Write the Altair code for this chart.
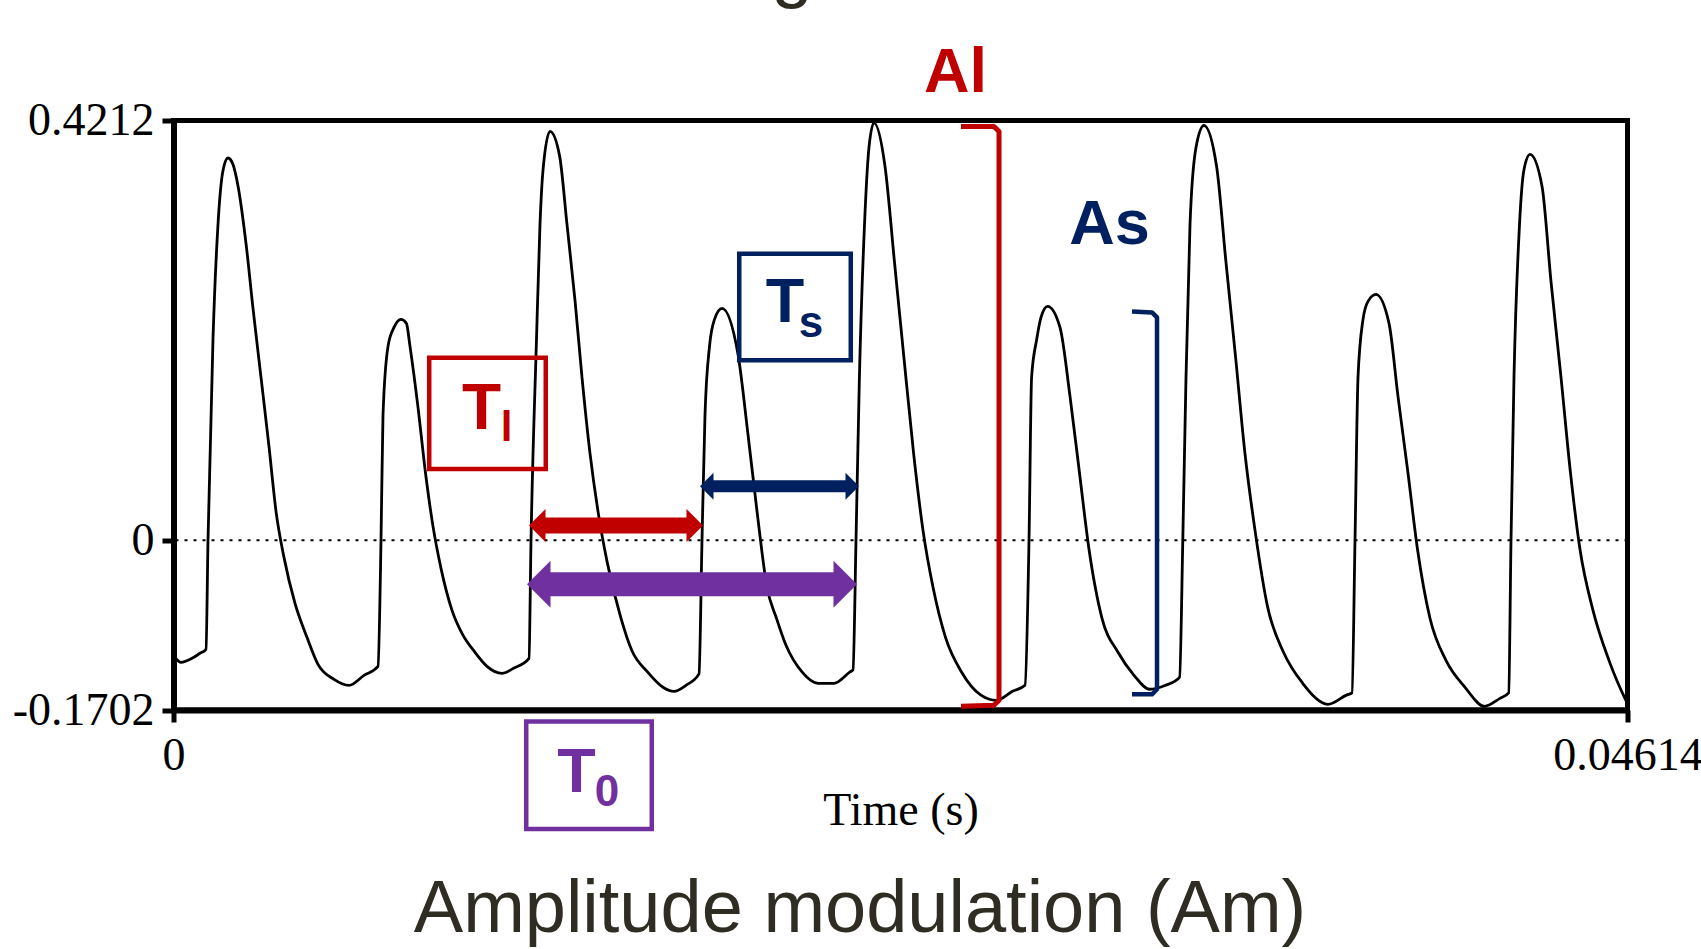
import altair as alt
import pandas as pd

# ---------------- waveform (time in s, amplitude) ----------------
TIME_S = [
    0.000048, 0.000238, 0.000587, 0.000841, 0.001031, 0.001095, 0.001253, 0.001412, 0.001571, 0.001729,
    0.001888, 0.002047, 0.002301, 0.002523, 0.002777, 0.003030, 0.003253, 0.003506, 0.003856, 0.004236,
    0.004585, 0.005093, 0.005569, 0.006045, 0.006489, 0.006585, 0.006648, 0.006807, 0.006997, 0.007219,
    0.007391, 0.007505, 0.007759, 0.007997, 0.008235, 0.008489, 0.008838, 0.009155, 0.009568, 0.009948,
    0.010424, 0.010792, 0.011281, 0.011345, 0.011519, 0.011630, 0.011725, 0.011947, 0.012249, 0.012487,
    0.012741, 0.012963, 0.013217, 0.013471, 0.013757, 0.014201, 0.014549, 0.015041, 0.015533, 0.015882,
    0.016263, 0.016676, 0.016771, 0.016866, 0.017009, 0.017168, 0.017405, 0.017913, 0.018230, 0.018517,
    0.018834, 0.019135, 0.019437, 0.019944, 0.020452, 0.020959, 0.021467, 0.021562, 0.021658, 0.021766,
    0.021928, 0.022070, 0.022229, 0.022579, 0.022880, 0.023181, 0.023486, 0.023784, 0.024102, 0.024498,
    0.025006, 0.025611, 0.026119, 0.026624, 0.027021, 0.027148, 0.027230, 0.027392, 0.027528, 0.027738,
    0.028131, 0.028449, 0.028750, 0.029052, 0.029464, 0.029972, 0.030480, 0.030974, 0.031482, 0.031926,
    0.032028, 0.032130, 0.032257, 0.032447, 0.032700, 0.033101, 0.033399, 0.033707, 0.034002, 0.034320,
    0.034719, 0.035224, 0.035833, 0.036636, 0.037238, 0.037397, 0.037493, 0.037588, 0.037747, 0.037905,
    0.038159, 0.038572, 0.038857, 0.039174, 0.039476, 0.039872, 0.040380, 0.040984, 0.041599, 0.042094,
    0.042370, 0.042443, 0.042538, 0.042713, 0.042856, 0.043046, 0.043426, 0.043712, 0.044030, 0.044331,
    0.044632, 0.045045, 0.045552, 0.046060, 0.046124,
]
AMPLITUDE = [
    -0.1174, -0.1224, -0.1184, -0.1133, -0.1093, 0.0000, 0.2016, 0.3169, 0.3711, 0.3836,
    0.3771, 0.3556, 0.2979, 0.2327, 0.1635, 0.0943, 0.0291, -0.0171, -0.0632, -0.0973,
    -0.1244, -0.1394, -0.1454, -0.1354, -0.1264, 0.0000, 0.1254, 0.1946, 0.2136, 0.2217,
    0.2177, 0.1946, 0.1334, 0.0676, 0.0140, -0.0281, -0.0702, -0.0933, -0.1123, -0.1264,
    -0.1334, -0.1284, -0.1184, 0.0000, 0.2016, 0.3169, 0.3711, 0.4102, 0.3862, 0.3169,
    0.2407, 0.1635, 0.0873, 0.0291, -0.0211, -0.0782, -0.1108, -0.1320, -0.1474, -0.1515,
    -0.1454, -0.1339, 0.0000, 0.1254, 0.1946, 0.2217, 0.2327, 0.1866, 0.1063, 0.0291,
    -0.0471, -0.0782, -0.1053, -0.1320, -0.1434, -0.1434, -0.1320, -0.1300, 0.0000, 0.1635,
    0.3169, 0.3942, 0.4189, 0.3751, 0.2788, 0.1825, 0.0873, 0.0100, -0.0471, -0.0973,
    -0.1320, -0.1550, -0.1605, -0.1515, -0.1454, 0.0000, 0.1635, 0.2016, 0.2237, 0.2347,
    0.2136, 0.1444, 0.0676, -0.0090, -0.0782, -0.1123, -0.1354, -0.1494, -0.1454, -0.1374,
    0.0000, 0.1635, 0.3169, 0.3942, 0.4162, 0.3751, 0.2788, 0.1825, 0.0869, 0.0100,
    -0.0667, -0.1123, -0.1434, -0.1645, -0.1550, -0.1531, 0.0000, 0.1635, 0.2217, 0.2397,
    0.2467, 0.2177, 0.1444, 0.0676, -0.0090, -0.0782, -0.1204, -0.1474, -0.1665, -0.1585,
    -0.1531, 0.0000, 0.1635, 0.3169, 0.3721, 0.3872, 0.3556, 0.2598, 0.1635, 0.0676,
    -0.0090, -0.0702, -0.1204, -0.1585, -0.1625,
]

X_TICKS = [0, 0.04614]
Y_TICKS = [-0.1702, 0, 0.4212]
X_DOMAIN = [0, 0.04614]
Y_DOMAIN = [-0.1702, 0.4212]

RED = "#c00000"
NAVY = "#002060"
PURPLE = "#7030a0"
TITLE_COLOR = "#2f2c24"

# ---------------- annotation boxes (Tl, Ts, T0) ----------------
BOX_T1 = [0.008115, 0.017953, 0.011193]
BOX_T2 = [0.011813, 0.021492, 0.015177]
BOX_V1 = [0.1833, 0.2876, -0.1818]
BOX_V2 = [0.0715, 0.1808, -0.2896]
BOX_COLORS = [RED, NAVY, PURPLE]

# ---------------- double arrows ----------------
ARROW_T1 = [0.011281, 0.016707, 0.011218]
ARROW_T2 = [0.016803, 0.021753, 0.021690]
ARROW_V = [0.0150, 0.0542, -0.0441]
ARROW_COLORS = [RED, NAVY, PURPLE]
ARROW_SHAFT = [16, 12, 24]
ARROW_HEAD = [16.5, 13.5, 23.5]

# ---------------- brackets ----------------
AL_T = [0.024990, 0.026037, 0.026196, 0.026196, 0.026037, 0.024990]
AL_V = [0.4152, 0.4152, 0.4102, -0.1605, -0.1655, -0.1665]
AS_T = [0.030416, 0.031050, 0.031210, 0.031210, 0.031050, 0.030416]
AS_V = [0.2297, 0.2287, 0.2237, -0.1494, -0.1545, -0.1545]

# ---------------- labels ----------------
BOLD_TEXT = ["Al", "As", "T", "l", "T", "s", "T", "0"]
BOLD_T = [0.024815, 0.029702, 0.009774, 0.010567, 0.019405, 0.020230, 0.012788, 0.013757]
BOLD_V = [0.4493, 0.2969, 0.1113, 0.0993, 0.2187, 0.2036, -0.2528, -0.2668]
BOLD_SIZE = [63, 63, 64, 42, 63, 44, 63, 44]
BOLD_COLOR = [RED, NAVY, RED, RED, NAVY, NAVY, PURPLE, PURPLE]

PLAIN_TEXT = ["Amplitude modulation (Am)", "g"]
PLAIN_T = [0.021785, 0.019627]
PLAIN_V = [-0.3932, 0.5481]
PLAIN_SIZE = [74, 74]

# ---------------- chart ----------------
xs = alt.Scale(domain=X_DOMAIN, nice=False, zero=False)
ys = alt.Scale(domain=Y_DOMAIN, nice=False, zero=False)

x_axis = alt.Axis(
    values=X_TICKS, title="Time (s)", grid=False, labelExpr="toString(datum.value)",
    domainColor="black", domainWidth=6, tickColor="black", tickWidth=5, tickSize=12,
    labelFont="Liberation Serif", labelFontSize=46, labelColor="black", labelPadding=11,
    labelFlush=False, labelOverlap=False, labelBound=False,
    titleFont="Liberation Serif", titleFontSize=46, titleFontWeight="normal", titleColor="black",
    titleY=114, titleBaseline="alphabetic",
)
y_axis = alt.Axis(
    values=Y_TICKS, title=None, grid=False, labelExpr="toString(datum.value)",
    domainColor="black", domainWidth=6, tickColor="black", tickWidth=5, tickSize=11.5,
    labelFont="Liberation Serif", labelFontSize=46, labelColor="black", labelPadding=8,
    labelAlign="right", labelBaseline="middle", labelOverlap=False, labelBound=False,
)


def X(f="t"):
    return alt.X(f"{f}:Q", scale=xs, axis=x_axis)


def Y(f="v"):
    return alt.Y(f"{f}:Q", scale=ys, axis=y_axis)


wave_df = pd.DataFrame({"t": TIME_S, "v": AMPLITUDE})
wave = alt.Chart(wave_df).mark_line(color="black", strokeWidth=2.8, interpolate="monotone").encode(
    x=X(), y=Y()
)

zero_df = pd.DataFrame({"v": [0.0]})
zero = alt.Chart(zero_df).mark_rule(color="black", strokeWidth=2, strokeDash=[3, 6]).encode(y=Y())

box_df = pd.DataFrame({"t": BOX_T1, "t2": BOX_T2, "v": BOX_V1, "v2": BOX_V2, "c": BOX_COLORS})
boxes = alt.Chart(box_df).mark_rect(fillOpacity=0, strokeWidth=4.5).encode(
    x=X(), x2="t2:Q", y=Y(), y2="v2:Q", stroke=alt.Stroke("c:N", scale=None)
)

LEFT_HEAD = "M0,0L1,-1L1,1Z"
RIGHT_HEAD = "M0,0L-1,-1L-1,1Z"
arrow_layers = []
for i in range(len(ARROW_T1)):
    adf = pd.DataFrame({"t": [ARROW_T1[i]], "t2": [ARROW_T2[i]], "v": [ARROW_V[i]]})
    h = ARROW_HEAD[i]
    shaft = alt.Chart(adf).mark_rule(
        color=ARROW_COLORS[i], strokeWidth=ARROW_SHAFT[i], strokeCap="butt",
        xOffset=h - 1, x2Offset=-(h - 1),
    ).encode(x=X(), x2="t2:Q", y=Y())
    lh = alt.Chart(adf).mark_point(
        shape=LEFT_HEAD, size=(2 * h) ** 2, filled=True, opacity=1, color=ARROW_COLORS[i], strokeWidth=0
    ).encode(x=X(), y=Y())
    rh = alt.Chart(adf).mark_point(
        shape=RIGHT_HEAD, size=(2 * h) ** 2, filled=True, opacity=1, color=ARROW_COLORS[i], strokeWidth=0
    ).encode(x=X("t2"), y=Y())
    arrow_layers += [shaft, lh, rh]

al_df = pd.DataFrame({"t": AL_T, "v": AL_V, "o": list(range(len(AL_T)))})
al_br = alt.Chart(al_df).mark_line(color=RED, strokeWidth=5, strokeJoin="round").encode(
    x=X(), y=Y(), order="o:Q"
)
as_df = pd.DataFrame({"t": AS_T, "v": AS_V, "o": list(range(len(AS_T)))})
as_br = alt.Chart(as_df).mark_line(color=NAVY, strokeWidth=4.5, strokeJoin="round").encode(
    x=X(), y=Y(), order="o:Q"
)

bold_df = pd.DataFrame({"txt": BOLD_TEXT, "t": BOLD_T, "v": BOLD_V, "s": BOLD_SIZE, "c": BOLD_COLOR})
bold_txt = alt.Chart(bold_df).mark_text(
    font="Liberation Sans", fontWeight="bold", align="center", baseline="alphabetic"
).encode(
    x=X(), y=Y(), text="txt:N",
    size=alt.Size("s:Q", scale=None, legend=None),
    color=alt.Color("c:N", scale=None, legend=None),
)

plain_df = pd.DataFrame({"txt": PLAIN_TEXT, "t": PLAIN_T, "v": PLAIN_V, "s": PLAIN_SIZE})
plain_txt = alt.Chart(plain_df).mark_text(
    font="Liberation Sans", align="center", baseline="alphabetic", color=TITLE_COLOR
).encode(
    x=X(), y=Y(), text="txt:N",
    size=alt.Size("s:Q", scale=None, legend=None),
)

chart = alt.layer(
    zero, wave, boxes, *arrow_layers, al_br, as_br, bold_txt, plain_txt
).properties(
    width=1454,
    height=589.5,
    autosize=alt.AutoSizeParams(type="none"),
    padding={"left": 173.5, "top": 120.5, "right": 73.5, "bottom": 239},
    background="white",
).configure_view(stroke="black", strokeWidth=5)

chart.save("out.html", embed_options={"renderer": "svg", "actions": False})
